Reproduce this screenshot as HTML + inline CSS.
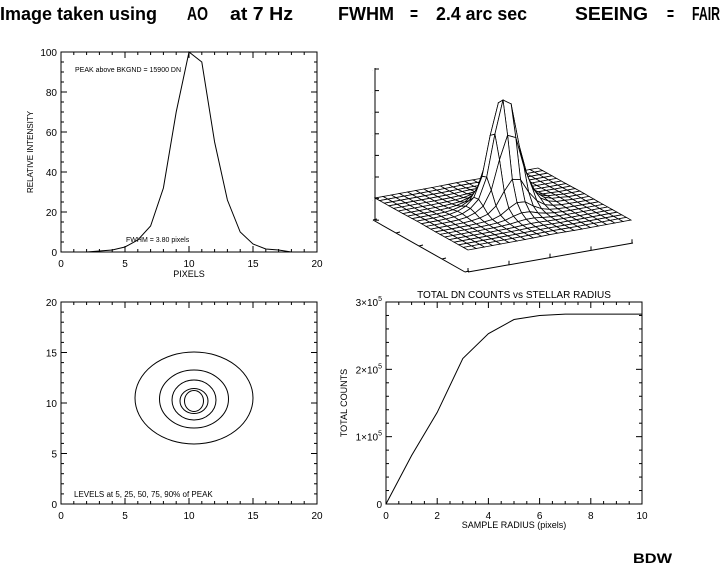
<!DOCTYPE html>
<html><head><meta charset="utf-8"><style>
html,body{margin:0;padding:0;background:#fff;}
svg{display:block;font-family:"Liberation Sans",sans-serif;}
</style></head><body>
<svg id="s" width="720" height="568" viewBox="0 0 720 568" xmlns="http://www.w3.org/2000/svg">
<rect width="720" height="568" fill="#fff"/>
<g font-weight="bold" font-size="18" fill="#000">
<text x="0" y="20" textLength="157" lengthAdjust="spacingAndGlyphs">Image taken using</text>
<text x="187" y="20" textLength="21" lengthAdjust="spacingAndGlyphs">AO</text>
<text x="230" y="20" textLength="63" lengthAdjust="spacingAndGlyphs">at  7 Hz</text>
<text x="338" y="20" textLength="56" lengthAdjust="spacingAndGlyphs">FWHM</text>
<text x="410" y="20" textLength="8" lengthAdjust="spacingAndGlyphs">=</text>
<text x="436" y="20" textLength="91" lengthAdjust="spacingAndGlyphs">2.4 arc sec</text>
<text x="575" y="20" textLength="73" lengthAdjust="spacingAndGlyphs">SEEING</text>
<text x="667" y="20" textLength="7" lengthAdjust="spacingAndGlyphs">=</text>
<text x="692" y="20" textLength="28" lengthAdjust="spacingAndGlyphs">FAIR</text>
<text x="633" y="563" font-size="14" textLength="39" lengthAdjust="spacingAndGlyphs">BDW</text>
</g>
<g id="g" fill="none" stroke="#000" stroke-width="1"></g>
<g id="t" font-size="10" fill="#000"></g>
</svg>
<script>
var g=document.getElementById('g'),t=document.getElementById('t'),NS='http://www.w3.org/2000/svg';
function el(p,n,a,txt){var e=document.createElementNS(NS,n);for(var k in a)e.setAttribute(k,a[k]);if(txt!=null)e.textContent=txt;p.appendChild(e);return e;}
function line(x1,y1,x2,y2){el(g,'line',{x1:x1,y1:y1,x2:x2,y2:y2});}
function txt(x,y,s,anc,size,rot){var a={x:x,y:y,'text-anchor':anc||'middle'};if(size)a['font-size']=size;if(rot)a.transform='rotate(-90 '+x+' '+y+')';return el(t,'text',a,s);}
function axes(L,R,T,B,x0,x1,xmaj,xmin,y0,y1,ymaj,ymin,ylab){
 el(g,'rect',{x:L,y:T,width:R-L,height:B-T});
 var v;
 for(v=x0;v<=x1+1e-9;v+=xmin){var px=L+(v-x0)/(x1-x0)*(R-L);var mj=Math.abs(v/xmaj-Math.round(v/xmaj))<1e-6;var l=mj?6:3;line(px,B,px,B-l);line(px,T,px,T+l);if(mj)txt(px,B+15,String(+v.toFixed(2)));}
 for(v=y0;v<=y1+1e-9;v+=ymin){var py=B-(v-y0)/(y1-y0)*(B-T);var mj=Math.abs(v/ymaj-Math.round(v/ymaj))<1e-6;var l=mj?6:3;line(L,py,L+l,py);line(R,py,R-l,py);if(mj&&ylab)ylab(v,py);}
}
// top-left
axes(61,317,52,252,0,20,5,1,0,100,20,5,function(v,py){txt(57,py+4,String(v),'end');});
var p=[0,0,0,0.5,1,2.5,6,13,32,70,100,95,55,26,10,4,1.5,1,0,0,0];
var pts=[];for(var i=2;i<=18;i++)pts.push((61+i*12.8)+','+(252-p[i]*2));
el(g,'polyline',{points:pts.join(' ')});
txt(33,152,'RELATIVE INTENSITY','middle',8,true);
txt(189,277,'PIXELS','middle',9);
txt(75,72,'PEAK above BKGND = 15900 DN','start',7);
txt(126,242,'FWHM = 3.80 pixels','start',7);
// bottom-left
axes(61,317,302,504,0,20,5,1,0,20,5,1,function(v,py){txt(57,py+4,String(v),'end');});
[[194,398,59,46],[194,399,34.5,29],[194,400,22,20],[194,401,14,12.5],[194,401,9.5,10.5]].forEach(function(c){el(g,'ellipse',{cx:c[0],cy:c[1],rx:c[2],ry:c[3]});});
txt(74,497,'LEVELS at 5, 25, 50, 75, 90% of PEAK','start',8);
// bottom-right
axes(386,642,302,504,0,10,2,0.5,0,3e5,1e5,2e4,function(v,py){
 if(v==0){txt(382,py+4,'0','end');return;}
 var e=txt(382,py+4,'','end');
 el(e,'tspan',{},Math.round(v/1e5)+'\u00d710');el(e,'tspan',{dy:-5,'font-size':7},'5');
});
var c=[0,0.72,1.36,2.16,2.53,2.74,2.80,2.82,2.82,2.82,2.82];
pts=[];for(i=0;i<=10;i++)pts.push((386+i*25.6)+','+(504-c[i]*1e5/3e5*202));
el(g,'polyline',{points:pts.join(' ')});
txt(514,298,'TOTAL DN COUNTS vs STELLAR RADIUS','middle',10);
txt(347,403,'TOTAL COUNTS','middle',9,true);
txt(514,528,'SAMPLE RADIUS  (pixels)','middle',9);
// 3D surface
var P0=[468,250],U=[-93,-52],V=[163,-30],N=20;
function h(i,j){var a=pf(i),b=pf(j);return a*b/100*1.09;}
function pf(k){var x=k*20/N;var i0=Math.floor(x),f=x-i0;var a=p[i0],b=p[Math.min(i0+1,20)];var r=a+(b-a)*f;return Math.max(r,0.3);}
function pr(i,j){var u=i/N,v=j/N;return [P0[0]+u*U[0]+v*V[0],P0[1]+u*U[1]+v*V[1]-h(i,j)];}
var quads=[];for(i=0;i<N;i++)for(var j=0;j<N;j++)quads.push([i,j]);
quads.sort(function(a,b){return (b[0]+b[1])-(a[0]+a[1]);});
quads.forEach(function(q){var i=q[0],j=q[1];var a=[pr(i,j),pr(i+1,j),pr(i+1,j+1),pr(i,j+1)];
 el(g,'polygon',{points:a.map(function(z){return z[0].toFixed(1)+','+z[1].toFixed(1);}).join(' '),fill:'#fff','stroke-width':0.8});});
// 3D axes
line(375,68,375,220);
for(i=0;i<8;i++){var y=69+i*21.6;line(375,y,379,y);el(t,'text',{x:373,y:y+2,'text-anchor':'end','font-size':3},'.');}
line(373,220,465,272);line(468,272,633,243);
for(i=0;i<=4;i++){var x=373+i*23,y=220+i*13;line(x,y,x+4,y-1);}
for(i=0;i<=4;i++){var x=468+i*41,y=272-i*7.2;line(x,y,x,y-4);}
</script>
</body></html>
